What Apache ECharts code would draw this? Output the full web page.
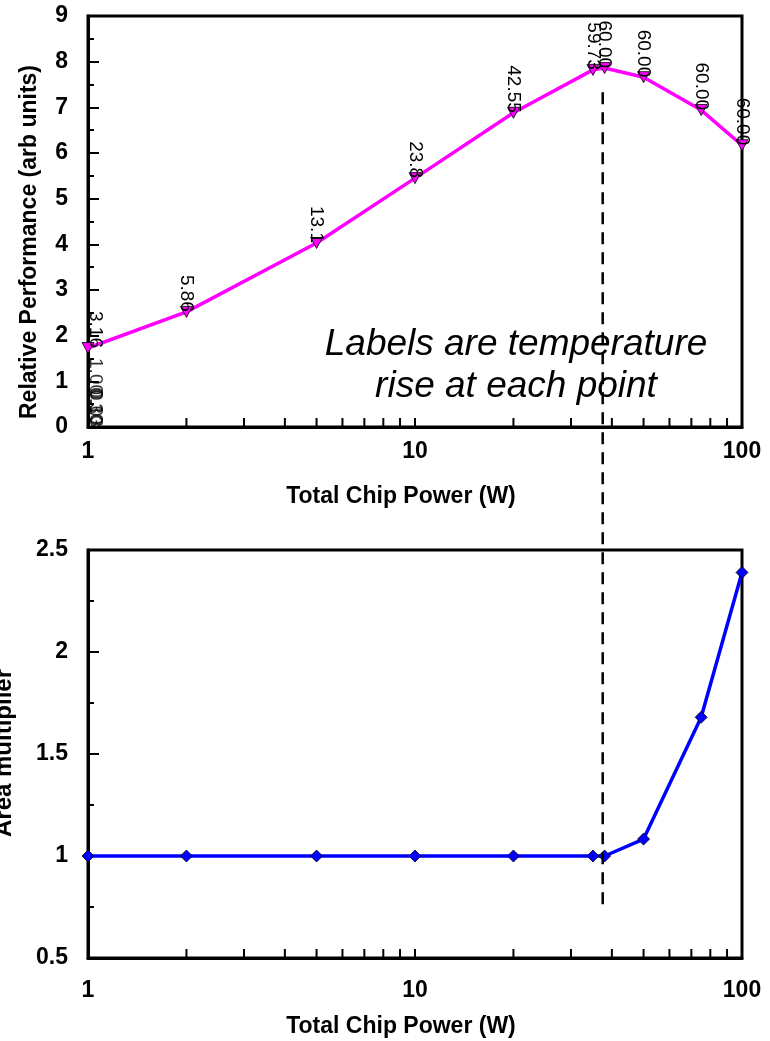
<!DOCTYPE html>
<html><head><meta charset="utf-8">
<script src="https://cdn.jsdelivr.net/npm/echarts@6/dist/echarts.min.js"></script>
<style>html,body{margin:0;padding:0;background:#fff}#c{width:770px;height:1041px}</style>
</head><body><div id="c"></div>
<script>
// ---- data ----
const powerTop = [1, 2, 5, 10, 20, 35, 38, 50, 75, 100];
const perfTop = [1.73, 2.52, 4.03, 5.45, 6.88, 7.82, 7.86, 7.66, 6.94, 6.17];
const tempLabels = ['3.16', '5.86', '13.1', '23.8', '42.55', '59.73', '60.00', '60.00', '60.00', '60.00'];
const edgePower = [1, 1, 1, 1];
const edgePerf = [0.7, 0.06, 0.03, 0.0];
const edgeLabels = ['1.00', '0.30', '0.10', '0.03'];
const powerBot = [1, 2, 5, 10, 20, 35, 38, 50, 75, 100];
const areaBot = [1, 1, 1, 1, 1, 1, 1, 1.083, 1.68, 2.39];
const minorPowerTicks = [2, 3, 4, 5, 6, 7, 8, 9, 20, 30, 40, 50, 60, 70, 80, 90];
const dividerPower = 37.5;
const dividerTopPerf = 7.33;
const dividerBotArea = 0.76;

const FONT = '"Liberation Sans", Arial, sans-serif';
const chart = echarts.init(document.getElementById('c'), null, {renderer: 'canvas'});

function xAxisCfg(gi, margin) {
  return {
    type: 'log', logBase: 10, min: 1, max: 100, gridIndex: gi,
    axisLine: {lineStyle: {color: '#000', width: 3}},
    axisTick: {inside: true, length: 9, lineStyle: {color: '#000', width: 2}},
    axisLabel: {color: '#000', fontFamily: FONT, fontWeight: 'bold', fontSize: 23, margin: margin},
    splitLine: {show: false}
  };
}
function yAxisCfg(gi, mn, mx, iv) {
  return {
    type: 'value', gridIndex: gi, min: mn, max: mx, interval: iv,
    axisLine: {show: true, lineStyle: {color: '#000', width: 3}},
    axisTick: {show: true, inside: true, length: 11, lineStyle: {color: '#000', width: 2}},
    minorTick: {show: true, splitNumber: 2, length: 6, lineStyle: {color: '#000', width: 2}},
    axisLabel: {color: '#000', fontFamily: FONT, fontWeight: 'bold', fontSize: 23, margin: 20},
    splitLine: {show: false}
  };
}
function minorTickSeries(gi, yMin) {
  return {
    type: 'custom', xAxisIndex: gi, yAxisIndex: gi, silent: true, z: 10,
    data: minorPowerTicks.map(v => [v, yMin]),
    renderItem: (params, api) => {
      const p = api.coord([api.value(0), api.value(1)]);
      return {type: 'line', shape: {x1: p[0], y1: p[1], x2: p[0], y2: p[1] - 9},
              style: {stroke: '#000', lineWidth: 2}};
    }
  };
}
const tempLabelCfg = {show: true, position: 'inside', rotate: -90, align: 'right', verticalAlign: 'middle',
                      color: '#000', fontFamily: FONT, fontSize: 19};

const option = {
  animation: false,
  backgroundColor: '#fff',
  grid: [
    {left: 88, top: 16, width: 654, height: 411, show: true, borderColor: '#000', borderWidth: 3, backgroundColor: 'transparent'},
    {left: 88, top: 550, width: 654, height: 408, show: true, borderColor: '#000', borderWidth: 3, backgroundColor: 'transparent'}
  ],
  xAxis: [xAxisCfg(0, 13), xAxisCfg(1, 21)],
  yAxis: [yAxisCfg(0, 0, 9, 1), yAxisCfg(1, 0.5, 2.5, 0.5)],
  series: [
    minorTickSeries(0, 0),
    minorTickSeries(1, 0.5),
    {
      type: 'line', xAxisIndex: 0, yAxisIndex: 0, z: 5,
      data: powerTop.map((x, i) => ({value: [x, perfTop[i]], label: {offset: x === 1 ? [0, -7] : [0, 0]}})),
      lineStyle: {color: '#FF00FF', width: 3.5},
      symbol: 'triangle', symbolSize: [12, 11], symbolRotate: 180,
      itemStyle: {color: '#FF00FF', borderColor: '#000', borderWidth: 0.8},
      label: Object.assign({formatter: p => tempLabels[p.dataIndex]}, tempLabelCfg)
    },
    {
      type: 'scatter', xAxisIndex: 0, yAxisIndex: 0, z: 6,
      data: edgePower.map((x, i) => [x, edgePerf[i]]),
      symbolSize: 1, itemStyle: {color: 'rgba(0,0,0,0)'},
      label: Object.assign({formatter: p => edgeLabels[p.dataIndex], offset: [0, -7]}, tempLabelCfg)
    },
    {
      type: 'line', xAxisIndex: 1, yAxisIndex: 1, z: 5,
      data: powerBot.map((x, i) => [x, areaBot[i]]),
      lineStyle: {color: '#0000FF', width: 3.5},
      symbol: 'diamond', symbolSize: [12, 12],
      itemStyle: {color: '#0000FF', borderColor: '#000', borderWidth: 0.8}
    }
  ],
  graphic: [
    {type: 'text', x: 30, y: 242, rotation: Math.PI / 2,
     style: {text: 'Relative Performance (arb units)', font: 'bold 23px ' + FONT, fill: '#000', textAlign: 'center', textVerticalAlign: 'middle'}},
    {type: 'text', x: 4, y: 753, rotation: Math.PI / 2,
     style: {text: 'Area multiplier', font: 'bold 24px ' + FONT, fill: '#000', textAlign: 'center', textVerticalAlign: 'middle'}},
    {type: 'text', x: 401, y: 497,
     style: {text: 'Total Chip Power (W)', font: 'bold 23px ' + FONT, fill: '#000', textAlign: 'center', textVerticalAlign: 'middle'}},
    {type: 'text', x: 401, y: 1027,
     style: {text: 'Total Chip Power (W)', font: 'bold 23px ' + FONT, fill: '#000', textAlign: 'center', textVerticalAlign: 'middle'}},
    {type: 'text', x: 516, y: 345,
     style: {text: 'Labels are temperature', font: 'italic 37px ' + FONT, fill: '#000', textAlign: 'center', textVerticalAlign: 'middle'}},
    {type: 'text', x: 516, y: 387,
     style: {text: 'rise at each point', font: 'italic 37px ' + FONT, fill: '#000', textAlign: 'center', textVerticalAlign: 'middle'}}
  ]
};
chart.setOption(option);

const p1 = chart.convertToPixel({gridIndex: 0}, [dividerPower, dividerTopPerf]);
const p2 = chart.convertToPixel({gridIndex: 1}, [dividerPower, dividerBotArea]);
const g = option.graphic.slice();
g.push({type: 'line', z: 20, shape: {x1: p1[0], y1: p1[1], x2: p2[0], y2: p2[1]},
        style: {stroke: '#000', lineWidth: 2.5, lineDash: [12, 8]}});
chart.setOption({graphic: g});
</script>
</body></html>
